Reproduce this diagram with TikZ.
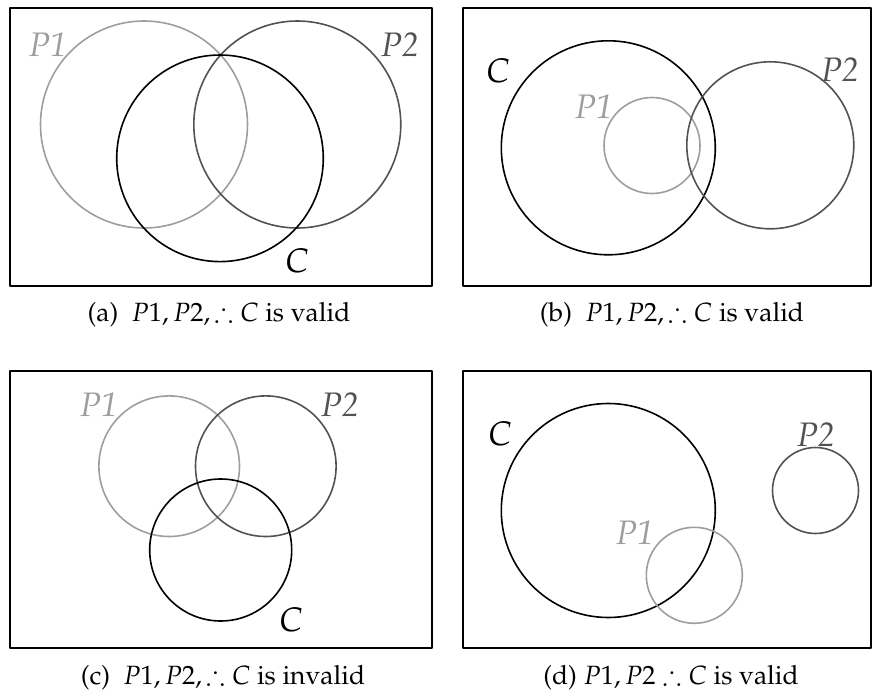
\documentclass[tikz,border=0pt]{standalone}
\usepackage[T1]{fontenc}
\usepackage{amssymb}
\usepackage{mathpazo}
\usepackage{tikz}

\definecolor{lightp}{gray}{0.62}
\definecolor{darkp}{gray}{0.32}

\begin{document}
\begin{tikzpicture}[x=0.5pt, y=-0.5pt, line cap=round, line join=round,
    frame/.style={line width=1pt},
    setA/.style={line width=0.8pt, lightp},
    setB/.style={line width=0.8pt, darkp},
    setC/.style={line width=0.8pt, black},
    lab/.style={inner sep=0pt, font=\fontsize{17}{20}\selectfont},
    subcap/.style={inner sep=0pt, font=\fontsize{13.2}{16}\selectfont}]
  \useasboundingbox (0,0) rectangle (873,696);

  % (a) tre cerchi grandi
  \draw[frame] (10,8) rectangle (432,286);
  \draw[setA] (144,124.5) circle[radius=103.5];
  \draw[setB] (297.3,124.5) circle[radius=103.5];
  \draw[setC] (220,158.3) circle[radius=103.3];
  \node[lab, lightp] (a-p1) at (48,45) {\textit{P1}};
  \node[lab, darkp] (a-p2) at (400,45) {\textit{P2}};
  \node[lab] (a-c) at (297,261) {\textit{C}};
  \node[subcap] (a-cap) at (219,315) {(a)\ \ $P1, P2, \therefore C$ is valid};

  % (b) P1 dentro C
  \draw[frame] (463,8) rectangle (871,286);
  \draw[setC] (608.3,147.8) circle[radius=107];
  \draw[setA] (652,145.5) circle[radius=48];
  \draw[setB] (770.3,145.3) circle[radius=83.5];
  \node[lab] (b-c) at (498,71) {\textit{C}};
  \node[lab, lightp] (b-p1) at (594,107) {\textit{P1}};
  \node[lab, darkp] (b-p2) at (840,70) {\textit{P2}};
  \node[subcap] (b-cap) at (672,315) {(b)\ \ $P1, P2, \therefore C$ is valid};

  % (c) C esce da P1 e P2
  \draw[frame] (10,371) rectangle (432,648);
  \draw[setA] (169.2,466.2) circle[radius=70.3];
  \draw[setB] (265.8,466.2) circle[radius=70.3];
  \draw[setC] (220.7,550) circle[radius=71];
  \node[lab, lightp] (c-p1) at (99,405) {\textit{P1}};
  \node[lab, darkp] (c-p2) at (340,405) {\textit{P2}};
  \node[lab] (c-c) at (291,620) {\textit{C}};
  \node[subcap] (c-cap) at (223,678) {(c)\ \ $P1, P2, \therefore C$ is invalid};

  % (d) P2 staccato
  \draw[frame] (463,371) rectangle (871,648);
  \draw[setC] (608.3,510.5) circle[radius=107];
  \draw[setA] (694.3,575.3) circle[radius=48];
  \draw[setB] (815.5,490.5) circle[radius=43];
  \node[lab] (d-c) at (500,434) {\textit{C}};
  \node[lab, lightp] (d-p1) at (635,533) {\textit{P1}};
  \node[lab, darkp] (d-p2) at (816,435) {\textit{P2}};
  \node[subcap] (d-cap) at (671,678) {(d) $P1, P2 \therefore C$ is valid};
\end{tikzpicture}
\end{document}
